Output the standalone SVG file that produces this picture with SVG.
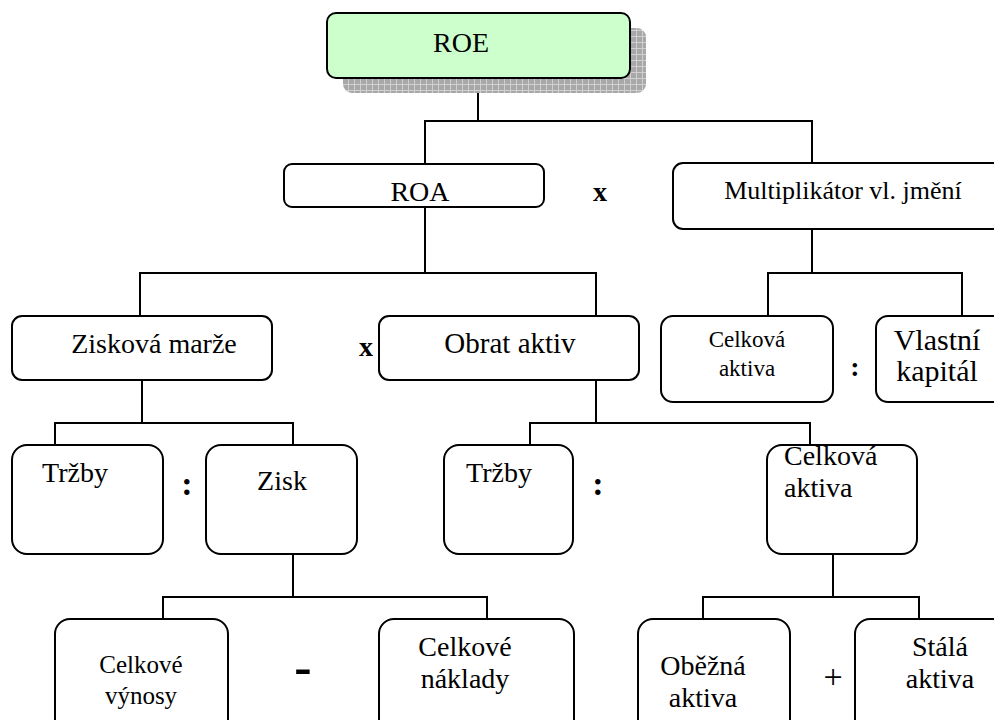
<svg xmlns="http://www.w3.org/2000/svg" width="994" height="720" viewBox="0 0 994 720">
<defs>
<pattern id="grid" width="6" height="6" patternUnits="userSpaceOnUse">
<rect width="6" height="6" fill="#A8A8A8"/>
<path d="M0 0.5H6M0.5 0V6" stroke="#D0D0D0" stroke-width="1"/>
</pattern>
<style>
.b{fill:#fff;stroke:#000;stroke-width:2}
.t{font-family:"Liberation Serif","Times New Roman",serif;font-size:28px;fill:#000;text-anchor:middle}
.l{text-anchor:start}
.s{font-size:23px}
.m{font-size:25px}
.op{font-weight:bold}
.c{fill:none;stroke:#000;stroke-width:2}
</style>
</defs>
<rect width="994" height="720" fill="#fff"/>
<g id="connectors">
<path class="c" d="M478 78V121M425 164V121H812V163"/>
<path class="c" d="M425 207V273M140 316V273H596V316"/>
<path class="c" d="M812 229V273M768 316V273H962V316"/>
<path class="c" d="M142 380V423M55 445V423H293V445"/>
<path class="c" d="M596 380V423M530 445V423H810V445"/>
<path class="c" d="M293 554V597M163 619V597H487V619"/>
<path class="c" d="M833 554V597M703 619V597H919V619"/>
</g>
<g id="roe">
<rect x="343" y="28" width="303" height="65" rx="9" fill="url(#grid)"/>
<rect x="327" y="13" width="303" height="65" rx="9" fill="#CCFFCC" stroke="#000" stroke-width="2"/>
<text class="t" x="461" y="52">ROE</text>
</g>
<g id="roa">
<rect class="b" x="284" y="164" width="260" height="43" rx="8"/>
<text class="t" x="420" y="201">ROA</text>
</g>
<text class="t op" x="600" y="201">x</text>
<g id="multiplikator">
<rect class="b" x="673" y="163" width="340" height="66" rx="10"/>
<text class="t" x="843" y="199" style="font-size:26px">Multiplikátor vl. jmění</text>
</g>
<g id="ziskova-marze">
<rect class="b" x="12" y="316" width="260" height="64" rx="10"/>
<text class="t" x="154" y="353">Zisková marže</text>
</g>
<text class="t op" x="366" y="356">x</text>
<g id="obrat-aktiv">
<rect class="b" x="379" y="316" width="260" height="64" rx="10"/>
<text class="t" x="510" y="353" style="font-size:29px">Obrat aktiv</text>
</g>
<g id="celkova-aktiva-1">
<rect class="b" x="661" y="316" width="172" height="86" rx="12"/>
<text class="t s" x="747" y="347">Celková</text>
<text class="t s" x="747" y="376">aktiva</text>
</g>
<text class="t op" x="855" y="376">:</text>
<g id="vlastni-kapital">
<rect class="b" x="876" y="316" width="140" height="86" rx="12"/>
<text class="t" x="937" y="350" style="font-size:30px">Vlastní</text>
<text class="t" x="937" y="381" style="font-size:30px">kapitál</text>
</g>
<g id="trzby-1">
<rect class="b" x="12" y="445" width="151" height="109" rx="15"/>
<text class="t" x="75" y="482">Tržby</text>
</g>
<text class="t op" x="187" y="495" style="font-size:34px">:</text>
<g id="zisk">
<rect class="b" x="206" y="445" width="151" height="109" rx="15"/>
<text class="t" x="282" y="490">Zisk</text>
</g>
<g id="trzby-2">
<rect class="b" x="444" y="445" width="129" height="109" rx="15"/>
<text class="t" x="499" y="482">Tržby</text>
</g>
<text class="t op" x="598" y="495" style="font-size:34px">:</text>
<g id="celkova-aktiva-2">
<rect class="b" x="767" y="445" width="150" height="109" rx="15"/>
<text class="t l" x="784" y="465">Celková</text>
<text class="t l" x="784" y="497">aktiva</text>
</g>
<g id="celkove-vynosy">
<rect class="b" x="55" y="619" width="173" height="130" rx="15"/>
<text class="t m" x="141" y="673">Celkové</text>
<text class="t m" x="141" y="704">výnosy</text>
</g>
<text class="t op" x="303" y="684" style="font-size:52px">-</text>
<g id="celkove-naklady">
<rect class="b" x="379" y="619" width="195" height="130" rx="15"/>
<text class="t" x="465" y="656">Celkové</text>
<text class="t" x="465" y="688">náklady</text>
</g>
<g id="obezna-aktiva">
<rect class="b" x="638" y="619" width="152" height="130" rx="15"/>
<text class="t" x="703" y="675">Oběžná</text>
<text class="t" x="703" y="707">aktiva</text>
</g>
<text class="t" x="833" y="688" style="font-size:34px">+</text>
<g id="stala-aktiva">
<rect class="b" x="855" y="619" width="160" height="130" rx="15"/>
<text class="t" x="940" y="656">Stálá</text>
<text class="t" x="940" y="688">aktiva</text>
</g>
</svg>
